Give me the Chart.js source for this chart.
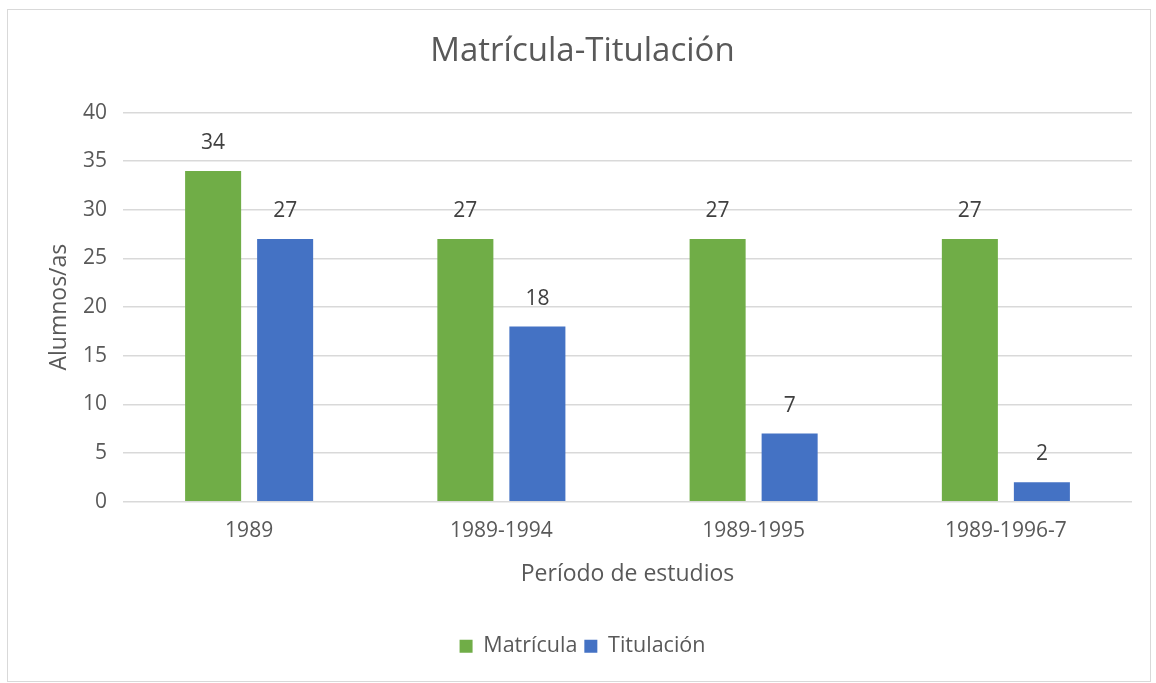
<!DOCTYPE html>
<html>
<head>
<meta charset="utf-8">
<script src="https://cdn.jsdelivr.net/npm/chart.js@4.4.1/dist/chart.umd.min.js"></script>
<style>
  body { margin: 0; background: #fff; }
  #box {
    position: absolute; left: 7px; top: 9px;
    width: 1142px; height: 671px;
    border: 1.5px solid #d9d9d9;
  }
</style>
</head>
<body>
<div id="box"><canvas id="chart" width="1142" height="671"></canvas></div>
<script>
// Data
const periodos = ['1989', '1989-1994', '1989-1995', '1989-1996-7'];
const matricula = [34, 27, 27, 27];
const titulacion = [27, 18, 7, 2];
const yTicks = [0, 5, 10, 15, 20, 25, 30, 35, 40];

const textColor = '#595959';
const fontFamily = '"Open Sans", sans-serif';

// Draws the value above each bar
const valueLabels = {
  id: 'valueLabels',
  afterDatasetsDraw(chart) {
    const ctx = chart.ctx;
    ctx.save();
    ctx.font = '21px ' + fontFamily;
    ctx.fillStyle = '#404040';
    ctx.textAlign = 'center';
    ctx.textBaseline = 'middle';
    chart.data.datasets.forEach((ds, i) => {
      chart.getDatasetMeta(i).data.forEach((bar, j) => {
        ctx.fillText(ds.data[j], bar.x, bar.y - 28);
      });
    });
    ctx.restore();
  }
};

const chart = new Chart(document.getElementById('chart'), {
  type: 'bar',
  data: {
    labels: periodos,
    datasets: [
      {
        label: 'Matrícula',
        data: matricula,
        backgroundColor: '#70ad47',
        categoryPercentage: 0.571,
        barPercentage: 0.778
      },
      {
        label: 'Titulación',
        data: titulacion,
        backgroundColor: '#4472c4',
        categoryPercentage: 0.571,
        barPercentage: 0.778
      }
    ]
  },
  options: {
    responsive: false,
    animation: false,
    layout: { padding: { left: 25, right: 18, top: 0, bottom: 14 } },
    scales: {
      x: {
        grid: { display: false, drawTicks: false },
        border: { display: false },
        ticks: { color: textColor, font: { size: 21, family: fontFamily }, padding: 17 },
        title: {
          display: true,
          text: 'Período de estudios',
          color: textColor,
          font: { size: 23, family: fontFamily },
          padding: { top: 0, bottom: 40 }
        }
      },
      y: {
        min: 0,
        max: 40,
        afterBuildTicks(scale) { scale.ticks = yTicks.map(v => ({ value: v })); },
        grid: { color: '#d9d9d9', lineWidth: 1.5, drawTicks: false },
        border: { display: false },
        ticks: { color: textColor, font: { size: 21, family: fontFamily }, padding: 16 },
        title: {
          display: true,
          text: 'Alumnos/as',
          color: textColor,
          font: { size: 23, family: fontFamily },
          padding: { top: 13, bottom: 0 }
        },
        afterFit(scale) { scale.width = 90; }
      }
    },
    plugins: {
      title: {
        display: true,
        text: 'Matrícula-Titulación',
        color: textColor,
        font: { size: 33, family: fontFamily, weight: 'normal' },
        padding: { top: 22, bottom: 41 }
      },
      legend: {
        position: 'bottom',
        labels: {
          color: textColor,
          font: { size: 21.5, family: fontFamily },
          boxWidth: 13,
          boxHeight: 13,
          padding: 7
        }
      },
      tooltip: { enabled: false }
    }
  },
  plugins: [valueLabels]
});
</script>
</body>
</html>
